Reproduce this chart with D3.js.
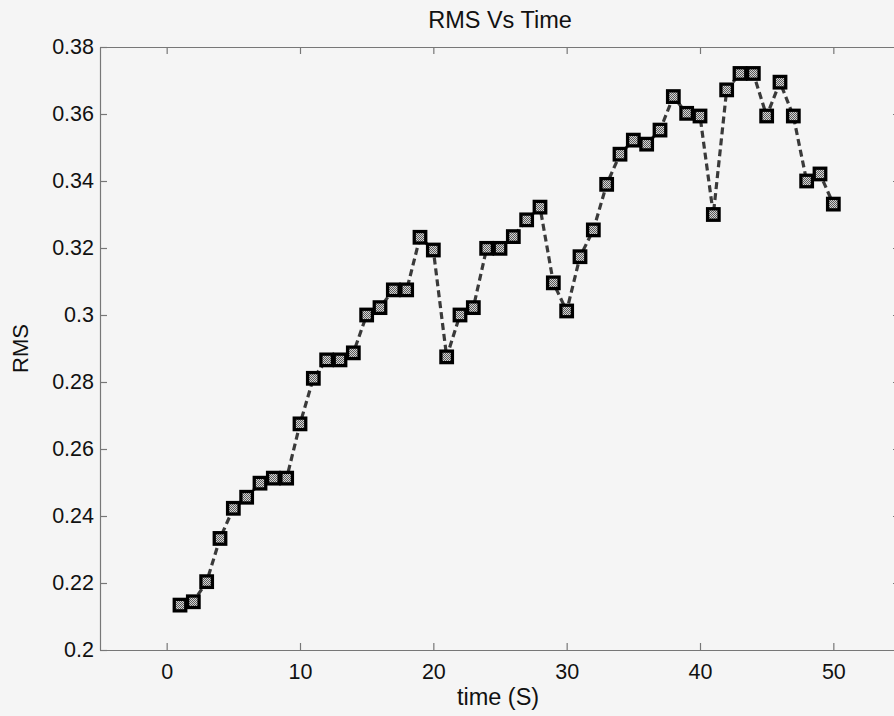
<!DOCTYPE html>
<html>
<head>
<meta charset="utf-8">
<script src="https://cdn.jsdelivr.net/npm/d3@7/dist/d3.min.js"></script>
<style>
  html, body { margin: 0; padding: 0; background: #f5f5f5; overflow: hidden; }
  svg { display: block; }
  text { font-family: Arial, "Liberation Sans", sans-serif; fill: #111; }
</style>
</head>
<body>
<script>
// ---- data ----
const timeValues = [1,2,3,4,5,6,7,8,9,10,11,12,13,14,15,16,17,18,19,20,21,22,23,24,25,26,27,28,29,30,31,32,33,34,35,36,37,38,39,40,41,42,43,44,45,46,47,48,49,50];
const rmsValues = [0.2134,0.2144,0.2204,0.2333,0.2423,0.2456,0.2498,0.2513,0.2513,0.2675,
                   0.2811,0.2866,0.2866,0.2887,0.3000,0.3022,0.3075,0.3075,0.3232,0.3194,
                   0.2875,0.3000,0.3022,0.3199,0.3199,0.3234,0.3284,0.3322,0.3096,0.3012,
                   0.3174,0.3254,0.3390,0.3480,0.3522,0.3510,0.3552,0.3652,0.3602,0.3594,
                   0.3300,0.3672,0.3721,0.3721,0.3594,0.3695,0.3594,0.3400,0.3421,0.3331];
const xTicks = [0,10,20,30,40,50];
const yTicks = [0.2,0.22,0.24,0.26,0.28,0.3,0.32,0.34,0.36,0.38];
const yTickLabels = ["0.2","0.22","0.24","0.26","0.28","0.3","0.32","0.34","0.36","0.38"];
const titleText = "RMS Vs Time";
const xLabelText = "time (S)";
const yLabelText = "RMS";

// ---- layout ----
const W = 894, H = 716;
const mLeft = 100, mRight = 900, mTop = 47, mBottom = 650;

const svg = d3.select("body").append("svg").attr("width", W).attr("height", H);
svg.append("rect").attr("width", W).attr("height", H).attr("fill", "#f5f5f5");

const defs = svg.append("defs");
const pat = defs.append("pattern").attr("id", "checker")
  .attr("width", 2).attr("height", 2).attr("patternUnits", "userSpaceOnUse");
pat.append("rect").attr("width", 2).attr("height", 2).attr("fill", "#d4d4d4");
pat.append("rect").attr("width", 1).attr("height", 1).attr("fill", "#5a5a5a");
pat.append("rect").attr("x", 1).attr("y", 1).attr("width", 1).attr("height", 1).attr("fill", "#5a5a5a");

const x = d3.scaleLinear().domain([-5, 55]).range([mLeft, mRight]);
const y = d3.scaleLinear().domain([0.2, 0.38]).range([mBottom, mTop]);

const axisColor = "#777";
const tickLen = 7;

const xAxis = d3.axisBottom(x).tickValues(xTicks).tickSizeInner(-tickLen).tickSizeOuter(0).tickPadding(14)
  .tickFormat(d3.format("d"));
const gx = svg.append("g").attr("transform", `translate(0,${mBottom})`).call(xAxis);
const xAxisTop = d3.axisTop(x).tickValues(xTicks).tickSizeInner(-tickLen).tickSizeOuter(0).tickFormat("");
const gxt = svg.append("g").attr("transform", `translate(0,${mTop})`).call(xAxisTop);
const yAxis = d3.axisLeft(y).tickValues(yTicks).tickSizeInner(-tickLen).tickSizeOuter(0).tickPadding(6)
  .tickFormat((d, i) => yTickLabels[i]);
const gy = svg.append("g").attr("transform", `translate(${mLeft},0)`).call(yAxis);
const yAxisRight = d3.axisRight(y).tickValues(yTicks).tickSizeInner(-tickLen).tickSizeOuter(0).tickFormat("");
const gyr = svg.append("g").attr("transform", `translate(${mRight},0)`).call(yAxisRight);

[gx, gxt, gy, gyr].forEach(g => {
  g.select(".domain").attr("stroke", axisColor).attr("stroke-width", 1.2);
  g.selectAll(".tick line").attr("stroke", axisColor).attr("stroke-width", 1.2);
  g.selectAll(".tick text").attr("font-size", 21.5).attr("fill", "#111")
    .attr("font-family", "Arial, 'Liberation Sans', sans-serif");
});
gx.selectAll(".tick text").attr("dy", "0.71em");

const line = d3.line().x((d, i) => x(timeValues[i])).y(d => y(d));
svg.append("path").datum(rmsValues)
  .attr("d", line)
  .attr("fill", "none")
  .attr("stroke", "#3a3a3a")
  .attr("stroke-width", 3.2)
  .attr("stroke-dasharray", "7,4");

const ms = 11.5;
svg.append("g").selectAll("rect").data(rmsValues).join("rect")
  .attr("x", (d, i) => x(timeValues[i]) - ms / 2)
  .attr("y", d => y(d) - ms / 2)
  .attr("width", ms).attr("height", ms)
  .attr("fill", "url(#checker)")
  .attr("stroke", "#000")
  .attr("stroke-width", 3.3);

svg.append("text").attr("x", (mLeft + mRight) / 2).attr("y", 28)
  .attr("text-anchor", "middle").attr("font-size", 23.5).text(titleText);
svg.append("text").attr("x", (mLeft + mRight) / 2 - 2).attr("y", 705)
  .attr("text-anchor", "middle").attr("font-size", 23.5).text(xLabelText);
svg.append("text").attr("transform", `translate(28,${(mTop + mBottom) / 2}) rotate(-90)`)
  .attr("text-anchor", "middle").attr("font-size", 22).text(yLabelText);
</script>
</body>
</html>
